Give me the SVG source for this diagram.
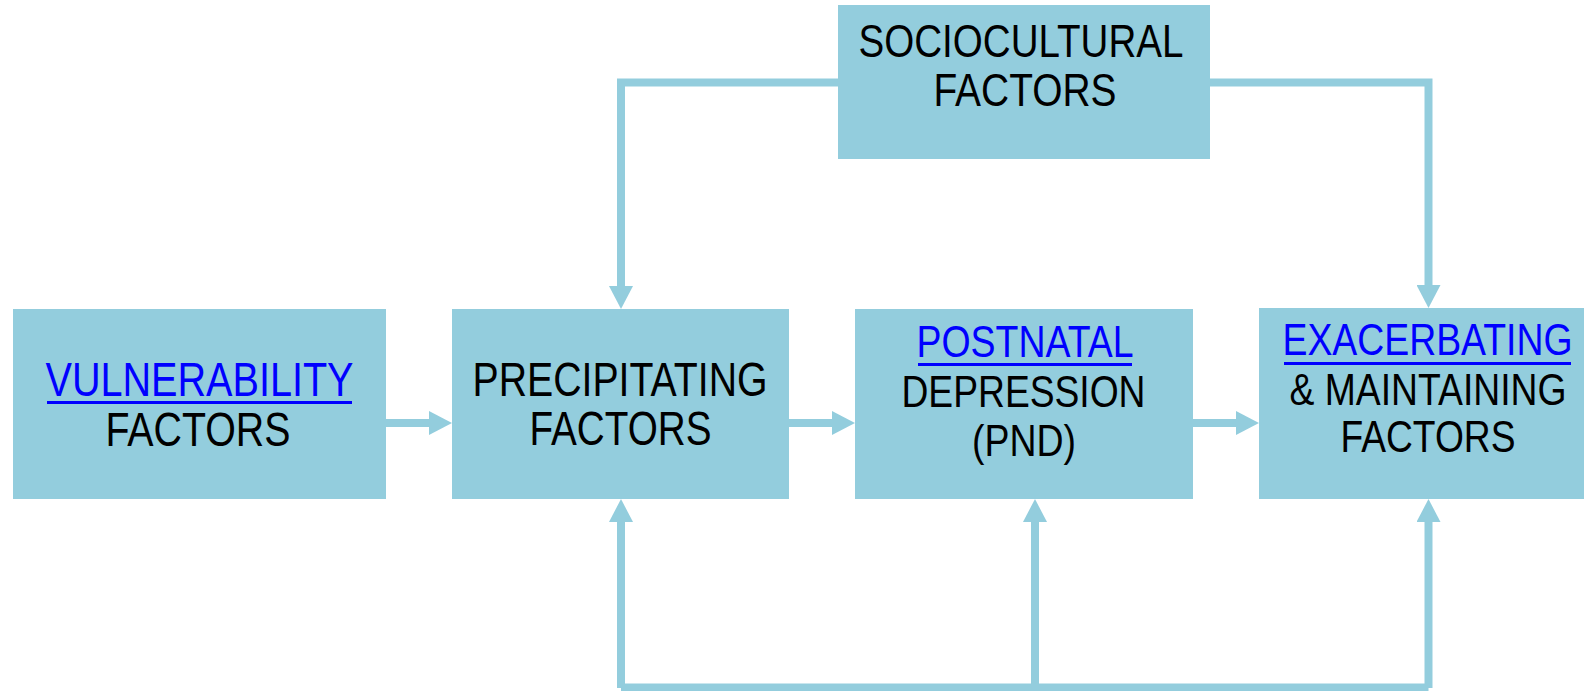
<svg xmlns="http://www.w3.org/2000/svg" width="1584" height="691" viewBox="0 0 1584 691">
  <defs>
    <marker id="ah" markerUnits="userSpaceOnUse" markerWidth="24" markerHeight="24" refX="0" refY="12" orient="auto">
      <path d="M0,0 L23,12 L0,24 z" fill="#93CDDD"/>
    </marker>
    <style>
      .box { fill: #93CDDD; }
      .t { font-family: "Liberation Sans", Arial, sans-serif; fill: #000; text-anchor: middle; }
      .l { fill: #0000FF; }
      .u { fill: #0000FF; }
      .c { fill: none; stroke: #93CDDD; stroke-width: 8; }
      .a { fill: none; stroke: #93CDDD; stroke-width: 8; marker-end: url(#ah); }
    </style>
  </defs>
  <rect width="1584" height="691" fill="#ffffff"/>

  <g id="connectors">
    <line class="a" x1="386" y1="423" x2="429" y2="423"/>
    <line class="a" x1="789" y1="423" x2="832" y2="423"/>
    <line class="a" x1="1193" y1="423" x2="1236" y2="423"/>
    <polyline class="a" points="838,82.5 621,82.5 621,286"/>
    <polyline class="a" points="1210,82.5 1428.5,82.5 1428.5,285"/>
    <line class="a" x1="621" y1="688" x2="621" y2="522"/>
    <line class="a" x1="1035" y1="688" x2="1035" y2="522"/>
    <line class="a" x1="1428.5" y1="688" x2="1428.5" y2="522"/>
    <line class="c" x1="621" y1="687.5" x2="1428.5" y2="687.5" stroke-width="7"/>
  </g>

  <g id="vulnerability">
    <rect class="box" x="13" y="309" width="373" height="190"/>
    <text class="t l" x="199.5" y="396" font-size="48" textLength="308" lengthAdjust="spacingAndGlyphs">VULNERABILITY</text>
    <rect class="u" x="47" y="401" width="305" height="3"/>
    <text class="t" x="198" y="446" font-size="48" textLength="185" lengthAdjust="spacingAndGlyphs">FACTORS</text>
  </g>

  <g id="precipitating">
    <rect class="box" x="452" y="309" width="337" height="190"/>
    <text class="t" x="620" y="396" font-size="48" textLength="295" lengthAdjust="spacingAndGlyphs">PRECIPITATING</text>
    <text class="t" x="620.5" y="444.5" font-size="48" textLength="182" lengthAdjust="spacingAndGlyphs">FACTORS</text>
  </g>

  <g id="postnatal">
    <rect class="box" x="855" y="309" width="338" height="190"/>
    <text class="t l" x="1025" y="357" font-size="45" textLength="217" lengthAdjust="spacingAndGlyphs">POSTNATAL</text>
    <rect class="u" x="918" y="363" width="214" height="3"/>
    <text class="t" x="1023.5" y="407" font-size="45" textLength="244" lengthAdjust="spacingAndGlyphs">DEPRESSION</text>
    <text class="t" x="1024" y="455.5" font-size="45" textLength="104" lengthAdjust="spacingAndGlyphs">(PND)</text>
  </g>

  <g id="exacerbating">
    <rect class="box" x="1259" y="308" width="325" height="191"/>
    <text class="t l" transform="translate(1427.5,355) scale(0.82,1)" x="0" y="0" font-size="45" textLength="353.7" lengthAdjust="spacingAndGlyphs">EXACERBATING</text>
    <rect class="u" x="1284" y="362" width="287" height="3"/>
    <text class="t" transform="translate(1428,405) scale(0.82,1)" x="0" y="0" font-size="45" textLength="337.8" lengthAdjust="spacingAndGlyphs">&amp; MAINTAINING</text>
    <text class="t" x="1428" y="451.5" font-size="45" textLength="175" lengthAdjust="spacingAndGlyphs">FACTORS</text>
  </g>

  <g id="sociocultural">
    <rect class="box" x="838" y="5" width="372" height="154"/>
    <text class="t" x="1021" y="57" font-size="47" textLength="325" lengthAdjust="spacingAndGlyphs">SOCIOCULTURAL</text>
    <text class="t" x="1025" y="106" font-size="47" textLength="183" lengthAdjust="spacingAndGlyphs">FACTORS</text>
  </g>
</svg>
